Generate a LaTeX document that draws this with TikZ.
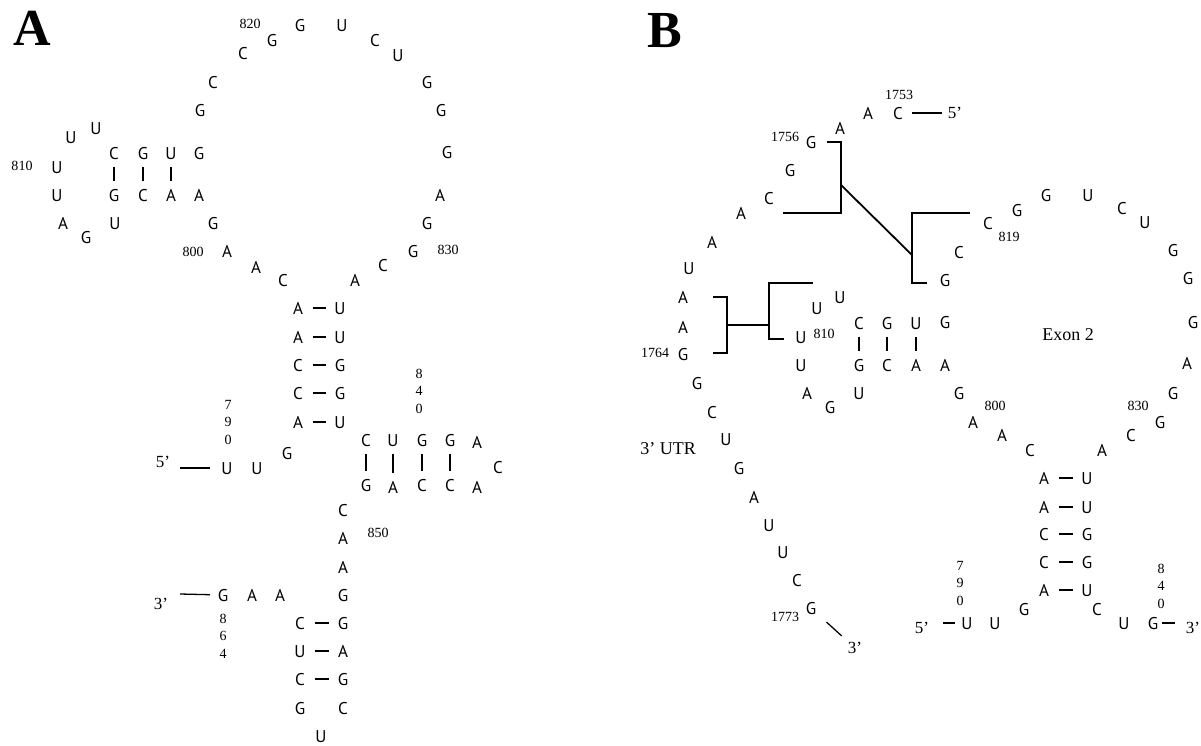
\documentclass[tikz,border=0pt]{standalone}
\usepackage{fontspec}
\setmainfont{Liberation Serif}
\newfontfamily\ntfont{PT Sans}
\usetikzlibrary{calc}

\tikzset{
  nt/.style={font=\ntfont\fontsize{17}{17}\selectfont, inner sep=0pt, text height=12pt, text depth=0pt},
  num/.style={font=\fontsize{14}{14}\selectfont, inner sep=0pt, text height=9.5pt, text depth=0pt},
  vnum/.style={font=\fontsize{14}{17.5}\selectfont, inner sep=0pt, align=center},
  endlabel/.style={font=\fontsize{17}{17}\selectfont, inner sep=0pt},
  panel/.style={font=\bfseries\fontsize{52}{52}\selectfont, inner sep=0pt, text height=34pt, text depth=0pt},
  region/.style={font=\fontsize{18}{18}\selectfont, inner sep=0pt},
  pair/.style={line width=1.6pt, shorten <=14.5pt, shorten >=14.5pt},
  stack/.style={line width=1.1pt, shorten <=13.5pt, shorten >=14.5pt},
  tail/.style={line width=1.3pt},
  link/.style={line width=1.2pt},
  cross/.style={line width=1.8pt},
}

\begin{document}
\begin{tikzpicture}[x=1pt,y=-1pt]
\useasboundingbox (0,0) rectangle (1201,745);

% ---------------- Panel A ----------------
\node[panel] (labA) at (32,28) {A};

\foreach \n/\x/\y/\t in {
  790/227/468/U, 791/257/468/U, 792/287/453/G,
  793/298/422/A, 794/298/393/C, 795/298/365/C, 796/298/337/A, 797/298/308/A,
  798/283/280/C, 799/256/267/A, 800/227/251/A, 801/213/223/G,
  802/199/195/A, 803/171/195/A, 804/143/195/C, 805/114/195/G,
  806/115/223/U, 807/86/237/G, 808/63/223/A, 809/57/195/U, 810/57/167/U,
  811/71/137/U, 812/96/128/U,
  813/114/153/C, 814/143/153/G, 815/171/153/U, 816/199/153/G,
  817/200/110/G, 818/213/82/C, 819/243/53/C, 820/272/40/G, 821/300/25/G,
  822/342/25/U, 823/375/40/C, 824/398/55/U, 825/427/82/G, 826/441/110/G,
  827/447/152/G, 828/440/195/A, 829/427/223/G, 830/413/251/G,
  831/383/265/C, 832/355/280/A,
  833/340/308/U, 834/340/337/U, 835/340/365/G, 836/340/393/G, 837/340/422/U,
  838/366/440/C, 839/393/440/U, 840/422/440/G, 841/450/440/G, 842/477/442/A,
  843/498/467/C,
  844/477/487/A, 845/450/485/C, 846/422/485/C, 847/393/487/A, 848/366/485/G,
  849/343/510/C, 850/343/538/A, 851/343/567/A, 852/343/595/G,
  853/343/623/G, 854/343/651/A, 855/343/679/G, 856/343/708/C,
  857/321/736/U,
  858/300/708/G, 859/300/679/C, 860/300/651/U, 861/300/623/C,
  862/280/595/A, 863/252/595/A, 864/223/595/G}
  \node[nt] (a\n) at (\x,\y) {\t};

% base pairs
\foreach \i/\j in {793/837, 794/836, 795/835, 796/834, 797/833,
                   861/853, 860/854, 859/855}
  \draw[pair] (a\i.center) -- (a\j.center);
\foreach \i/\j in {813/805, 814/804, 815/803,
                   838/848, 839/847, 840/846, 841/845}
  \draw[stack] (a\i.center) -- (a\j.center);

% strand ends
\node[endlabel] (a5p) at (163,462) {5'};
\node[endlabel] (a3p) at (161,604) {3'};
\coordinate (a5e) at (180,468);
\coordinate (a3e) at (180,594);
\draw[tail, shorten <=17pt] (a790.center) -- (a5e);
\draw[tail, shorten <=13pt] (a864.center) -- (a3e);

% numbering
\node[num] (n820a) at (250,24) {820};
\node[num] (n810a) at (22,166) {810};
\node[num] (n800a) at (193,252) {800};
\node[num] (n830a) at (448,250) {830};
\node[num] (n850a) at (378,533) {850};
\node[vnum] (n790a) at (228,422) {7\\9\\0};
\node[vnum] (n840a) at (419,391) {8\\4\\0};
\node[vnum] (n864a) at (223,636) {8\\6\\4};

% ---------------- Panel B ----------------
\node[panel] (labB) at (665,30) {B};

% 3' UTR strand
\foreach \n/\x/\y/\t in {
  1753/898/113/C, 1754/868/113/A, 1755/840/128/A, 1756/811/142/G,
  1757/790/170/G, 1758/769/198/C, 1759/741/213/A, 1760/712/242/A,
  1761/689/268/U, 1762/683/297/A, 1763/683/327/A, 1764/683/354/G,
  1765/697/383/G, 1766/712/412/C, 1767/726/439/U, 1768/739/468/G,
  1769/754/497/A, 1770/769/525/U, 1771/783/552/U, 1772/797/580/C,
  1773/811/608/G}
  \node[nt] (u\n) at (\x,\y) {\t};

% exon 2 strand
\foreach \n/\x/\y/\t in {
  790/967/623/U, 791/995/623/U, 792/1024/609/G,
  793/1044/590/A, 794/1044/562/C, 795/1044/534/C, 796/1044/507/A, 797/1044/478/A,
  798/1030/450/C, 799/1002/435/A, 800/973/422/A, 801/959/393/G,
  802/945/365/A, 803/916/365/A, 804/887/365/C, 805/859/365/G,
  806/859/393/U, 807/830/407/G, 808/807/393/A, 809/801/365/U, 810/801/337/U,
  811/817/308/U, 812/840/297/U,
  813/859/323/C, 814/887/323/G, 815/916/323/U, 816/945/322/G,
  817/945/280/G, 818/959/252/C, 819/988/223/C, 820/1017/210/G, 821/1046/195/G,
  822/1088/195/U, 823/1122/208/C, 824/1145/222/U, 825/1173/250/G, 826/1188/278/G,
  827/1193/322/G, 828/1187/363/A, 829/1173/393/G, 830/1160/422/G,
  831/1131/435/C, 832/1102/450/A,
  833/1087/478/U, 834/1087/507/U, 835/1087/534/G, 836/1087/562/G, 837/1087/590/U,
  838/1097/609/C, 839/1124/623/U, 840/1153/623/G}
  \node[nt] (b\n) at (\x,\y) {\t};

\foreach \i/\j in {793/837, 794/836, 795/835, 796/834, 797/833}
  \draw[pair] (b\i.center) -- (b\j.center);
\foreach \i/\j in {813/805, 814/804, 815/803}
  \draw[stack] (b\i.center) -- (b\j.center);

% strand ends
\node[endlabel] (u5p) at (955,113) {5'};
\node[endlabel] (u3p) at (855,648) {3'};
\node[endlabel] (b5p) at (922,628) {5'};
\node[endlabel] (b3p) at (1193,628) {3'};
\draw[tail, shorten <=14pt, shorten >=13pt] (u1753.center) -- (u5p.center);
\draw[tail, shorten <=21pt, shorten >=18pt] (u1773.center) -- (u3p.center);
\coordinate (b5e) at (943,623);
\coordinate (b3e) at (1175,623);
\draw[tail, shorten <=12pt] (b790.center) -- (b5e);
\draw[tail, shorten <=9pt] (b840.center) -- (b3e);

% complementary regions between the UTR and exon 2
\coordinate (p1) at (827,142);
\coordinate (p2) at (841,142);
\coordinate (p3) at (841,213);
\coordinate (p4) at (783,213);
\coordinate (p5) at (841,185);
\coordinate (q1) at (970,213);
\coordinate (q2) at (912,213);
\coordinate (q3) at (912,283);
\coordinate (q4) at (927,283);
\coordinate (q5) at (912,255);
\draw[link] (p1) -- (p2) -- (p3) -- (p4);
\draw[link] (q1) -- (q2) -- (q3) -- (q4);
\draw[cross] (p5) -- (q5);

\coordinate (r1) at (713,297);
\coordinate (r2) at (727,297);
\coordinate (r3) at (727,353);
\coordinate (r4) at (713,353);
\coordinate (r5) at (727,325);
\coordinate (s1) at (813,283);
\coordinate (s2) at (769,283);
\coordinate (s3) at (769,339);
\coordinate (s4) at (784,339);
\coordinate (s5) at (769,325);
\draw[link] (r1) -- (r2) -- (r3) -- (r4);
\draw[link] (s1) -- (s2) -- (s3) -- (s4);
\draw[cross] (r5) -- (s5);

% numbering and region names
\node[num] (n1753) at (899,95) {1753};
\node[num] (n1756) at (785,137) {1756};
\node[num] (n1764) at (655,353) {1764};
\node[num] (n1773) at (785,617) {1773};
\node[num] (n819b) at (1009,237) {819};
\node[num] (n810b) at (824,334) {810};
\node[num] (n800b) at (995,406) {800};
\node[num] (n830b) at (1138,406) {830};
\node[vnum] (n790b) at (960,583) {7\\9\\0};
\node[vnum] (n840b) at (1161,586) {8\\4\\0};
\node[region] (exon) at (1068,335) {Exon 2};
\node[region] (utr) at (668,449) {3' UTR};
\end{tikzpicture}
\end{document}
